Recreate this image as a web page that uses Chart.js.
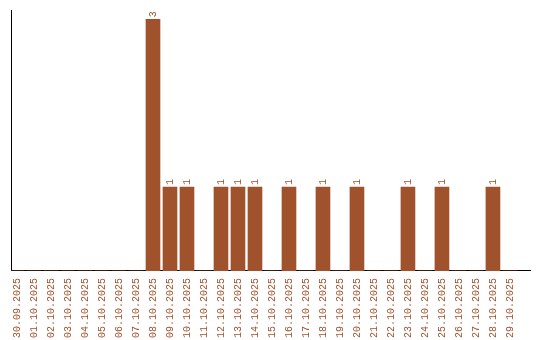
<!DOCTYPE html>
<html>
<head>
<meta charset="utf-8">
<script src="https://cdn.jsdelivr.net/npm/chart.js@4"></script>
<style>html,body{margin:0;padding:0;background:#fff;}canvas{display:block;}</style>
</head>
<body>
<canvas id="c" width="540" height="340"></canvas>
<script>
const dates = ["30.09.2025","01.10.2025","02.10.2025","03.10.2025","04.10.2025","05.10.2025","06.10.2025","07.10.2025","08.10.2025","09.10.2025","10.10.2025","11.10.2025","12.10.2025","13.10.2025","14.10.2025","15.10.2025","16.10.2025","17.10.2025","18.10.2025","19.10.2025","20.10.2025","21.10.2025","22.10.2025","23.10.2025","24.10.2025","25.10.2025","26.10.2025","27.10.2025","28.10.2025","29.10.2025"];
const counts = [0,0,0,0,0,0,0,0,3,1,1,0,1,1,1,0,1,0,1,0,1,0,0,1,0,1,0,0,1,0];

const COLOR = '#A0522D';
const FAMILY = '"Liberation Mono", "Courier New", monospace';
const FONT = '10px ' + FAMILY;

const labelPlugin = {
  id: 'vlabels',
  afterDatasetsDraw(chart) {
    const ctx = chart.ctx;
    const meta = chart.getDatasetMeta(0);
    ctx.save();
    ctx.font = FONT;
    ctx.fillStyle = COLOR;
    ctx.textAlign = 'left';
    ctx.textBaseline = 'middle';
    meta.data.forEach((bar, i) => {
      const v = counts[i];
      if (!v) return;
      ctx.save();
      ctx.translate(bar.x, bar.y - 2);
      ctx.rotate(-Math.PI / 2);
      ctx.fillText(String(v), 0, 0);
      ctx.restore();
    });
    ctx.restore();
  }
};

new Chart(document.getElementById('c'), {
  type: 'bar',
  data: {
    datasets: [{
      data: counts.map((v, i) => ({x: i, y: v})),
      backgroundColor: COLOR,
      borderWidth: 0,
      barThickness: 14
    }]
  },
  options: {
    responsive: false,
    animation: false,
    layout: {padding: {left: 11, top: 10, right: 10, bottom: -5}},
    plugins: {legend: {display: false}, tooltip: {enabled: false}},
    scales: {
      x: {
        type: 'linear',
        min: -0.353,
        max: 30.18,
        offset: false,
        afterBuildTicks(scale) { scale.ticks = dates.map((_, i) => ({value: i})); },
        grid: {display: false, drawTicks: false},
        border: {display: true, color: '#000', width: 1},
        ticks: {
          autoSkip: false,
          maxRotation: 90,
          minRotation: 90,
          padding: 7,
          color: COLOR,
          font: {family: FAMILY, size: 10},
          callback: (v) => dates[v] ?? ''
        }
      },
      y: {
        min: 0,
        max: 3.11,
        grid: {display: false, drawTicks: false},
        border: {display: true, color: '#000', width: 1},
        ticks: {display: false}
      }
    }
  },
  plugins: [labelPlugin]
});
</script>
</body>
</html>
